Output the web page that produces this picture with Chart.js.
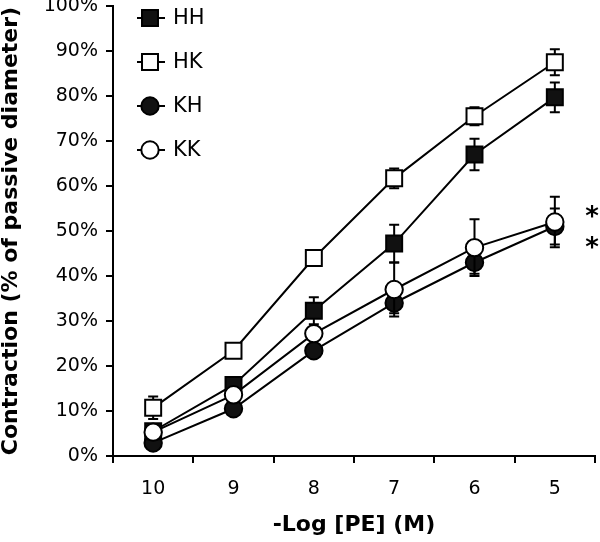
<!DOCTYPE html>
<html>
<head>
<meta charset="utf-8">
<script src="https://cdn.jsdelivr.net/npm/chart.js@4/dist/chart.umd.min.js"></script>
<style>
  body { margin: 0; background: #fff; }
  canvas { display: block; }
</style>
</head>
<body>
<canvas id="peChart" width="600" height="542"></canvas>
<script>
// -log [PE] concentrations on the x axis
var doses = ['10', '9', '8', '7', '6', '5'];

// contraction, % of passive diameter (mean and error)
var hhMean = [5.5, 15.8, 32.3, 47.2, 67.0, 79.7];
var hhErr  = [1.5, 1.3, 3.0, 4.2, 3.5, 3.3];
var hkMean = [10.7, 23.4, 44.0, 61.7, 75.5, 87.5];
var hkErr  = [2.5, 0.5, 1.0, 2.2, 2.0, 2.9];
var khMean = [2.9, 10.5, 23.4, 34.0, 43.0, 51.0];
var khErr  = [1.0, 1.0, 1.5, 2.3, 2.5, 4.0];
var kkMean = [5.3, 13.6, 27.2, 37.0, 46.3, 52.0];
var kkErr  = [1.0, 1.0, 1.5, 6.0, 6.3, 5.6];

// significance stars next to the last dose
var starLevels = [54.5, 47.5];

var FONT = "'DejaVu Sans', sans-serif";

function series(label, data, errs, style, filled, order) {
    return {
        label: label,
        data: data,
        errors: errs,
        order: order,
        borderColor: '#000',
        borderWidth: 2,
        tension: 0,
        fill: false,
        pointStyle: style,
        pointRadius: style === 'rect' ? 11.3 : 8.7,
        pointHoverRadius: style === 'rect' ? 11.3 : 8.7,
        pointBorderWidth: 2,
        pointBorderColor: '#000',
        pointBackgroundColor: filled ? '#111' : '#fff'
    };
}

// whiskers, drawn just before each dataset so markers sit on top
var errorBars = {
    id: 'errorBars',
    beforeDatasetDraw: function (chart, args) {
        var ds = chart.data.datasets[args.index];
        var y = chart.scales.y;
        var ctx = chart.ctx;
        ctx.save();
        ctx.strokeStyle = '#000';
        ctx.lineWidth = 2;
        args.meta.data.forEach(function (pt, i) {
            var e = ds.errors[i];
            var top = y.getPixelForValue(ds.data[i] + e);
            var bot = y.getPixelForValue(ds.data[i] - e);
            ctx.beginPath();
            ctx.moveTo(pt.x, top); ctx.lineTo(pt.x, bot);
            ctx.moveTo(pt.x - 5, top); ctx.lineTo(pt.x + 5, top);
            ctx.moveTo(pt.x - 5, bot); ctx.lineTo(pt.x + 5, bot);
            ctx.stroke();
        });
        ctx.restore();
    }
};

// legend inside the plot, top left, plus the stars
var extras = {
    id: 'extras',
    afterDraw: function (chart) {
        var ctx = chart.ctx;
        var area = chart.chartArea;
        ctx.save();
        chart.data.datasets.forEach(function (ds, row) {
            var cx = area.left + 37;
            var cy = area.top + 12 + row * 44;
            ctx.strokeStyle = '#000';
            ctx.lineWidth = 2;
            ctx.beginPath();
            ctx.moveTo(cx - 13, cy); ctx.lineTo(cx + 15, cy);
            ctx.stroke();
            ctx.fillStyle = ds.pointBackgroundColor;
            ctx.beginPath();
            if (ds.pointStyle === 'rect') {
                var h = ds.pointRadius * Math.SQRT1_2;
                ctx.rect(cx - h, cy - h, 2 * h, 2 * h);
            } else {
                ctx.arc(cx, cy, ds.pointRadius, 0, Math.PI * 2);
            }
            ctx.fill();
            ctx.stroke();
            ctx.fillStyle = '#000';
            ctx.font = '21px ' + FONT;
            ctx.textBaseline = 'middle';
            ctx.textAlign = 'left';
            ctx.fillText(ds.label, cx + 23, cy + 1);
        });
        ctx.font = 'bold 26px ' + FONT;
        ctx.textAlign = 'center';
        ctx.textBaseline = 'alphabetic';
        starLevels.forEach(function (v) {
            ctx.fillText('*', area.right - 3, chart.scales.y.getPixelForValue(v) + 14);
        });
        ctx.restore();
    }
};

Chart.defaults.color = '#000';
Chart.defaults.font.family = FONT;

new Chart(document.getElementById('peChart').getContext('2d'), {
    type: 'line',
    data: {
        labels: doses,
        datasets: [
            series('HH', hhMean, hhErr, 'rect', true, 1),
            series('HK', hkMean, hkErr, 'rect', false, 2),
            series('KH', khMean, khErr, 'circle', true, 3),
            series('KK', kkMean, kkErr, 'circle', false, 0)
        ]
    },
    options: {
        responsive: false,
        animation: false,
        events: [],
        layout: {
            autoPadding: false,
            padding: { top: 6, right: 5, left: 0, bottom: 0 }
        },
        plugins: {
            legend: { display: false },
            tooltip: { enabled: false }
        },
        scales: {
            x: {
                offset: true,
                grid: {
                    offset: true,
                    drawOnChartArea: false,
                    drawTicks: true,
                    tickLength: 7,
                    color: '#000',
                    lineWidth: 2
                },
                border: { display: true, color: '#000', width: 2 },
                ticks: { font: { size: 19 }, padding: 15, maxRotation: 0 },
                title: {
                    display: true,
                    text: '-Log [PE] (M)',
                    font: { size: 22, weight: 'bold', lineHeight: 1 },
                    padding: { top: 0, bottom: 6 }
                },
                afterFit: function (s) {
                    s.height = 86;
                    s.paddingLeft = 0; s.paddingRight = 0;
                }
            },
            y: {
                min: 0,
                max: 100,
                grid: {
                    drawOnChartArea: false,
                    drawTicks: true,
                    tickLength: 7,
                    color: '#000',
                    lineWidth: 2
                },
                border: { display: true, color: '#000', width: 2 },
                ticks: {
                    stepSize: 10,
                    font: { size: 19 },
                    padding: 8,
                    callback: function (v) { return v + '%'; }
                },
                title: {
                    display: true,
                    text: 'Contraction (% of passive diameter)',
                    font: { size: 22, weight: 'bold', lineHeight: 1 },
                    padding: 0
                },
                afterFit: function (s) {
                    s.width = 113;
                    s.paddingTop = 0; s.paddingBottom = 0;
                }
            }
        }
    },
    plugins: [errorBars, extras]
});
</script>
</body>
</html>
